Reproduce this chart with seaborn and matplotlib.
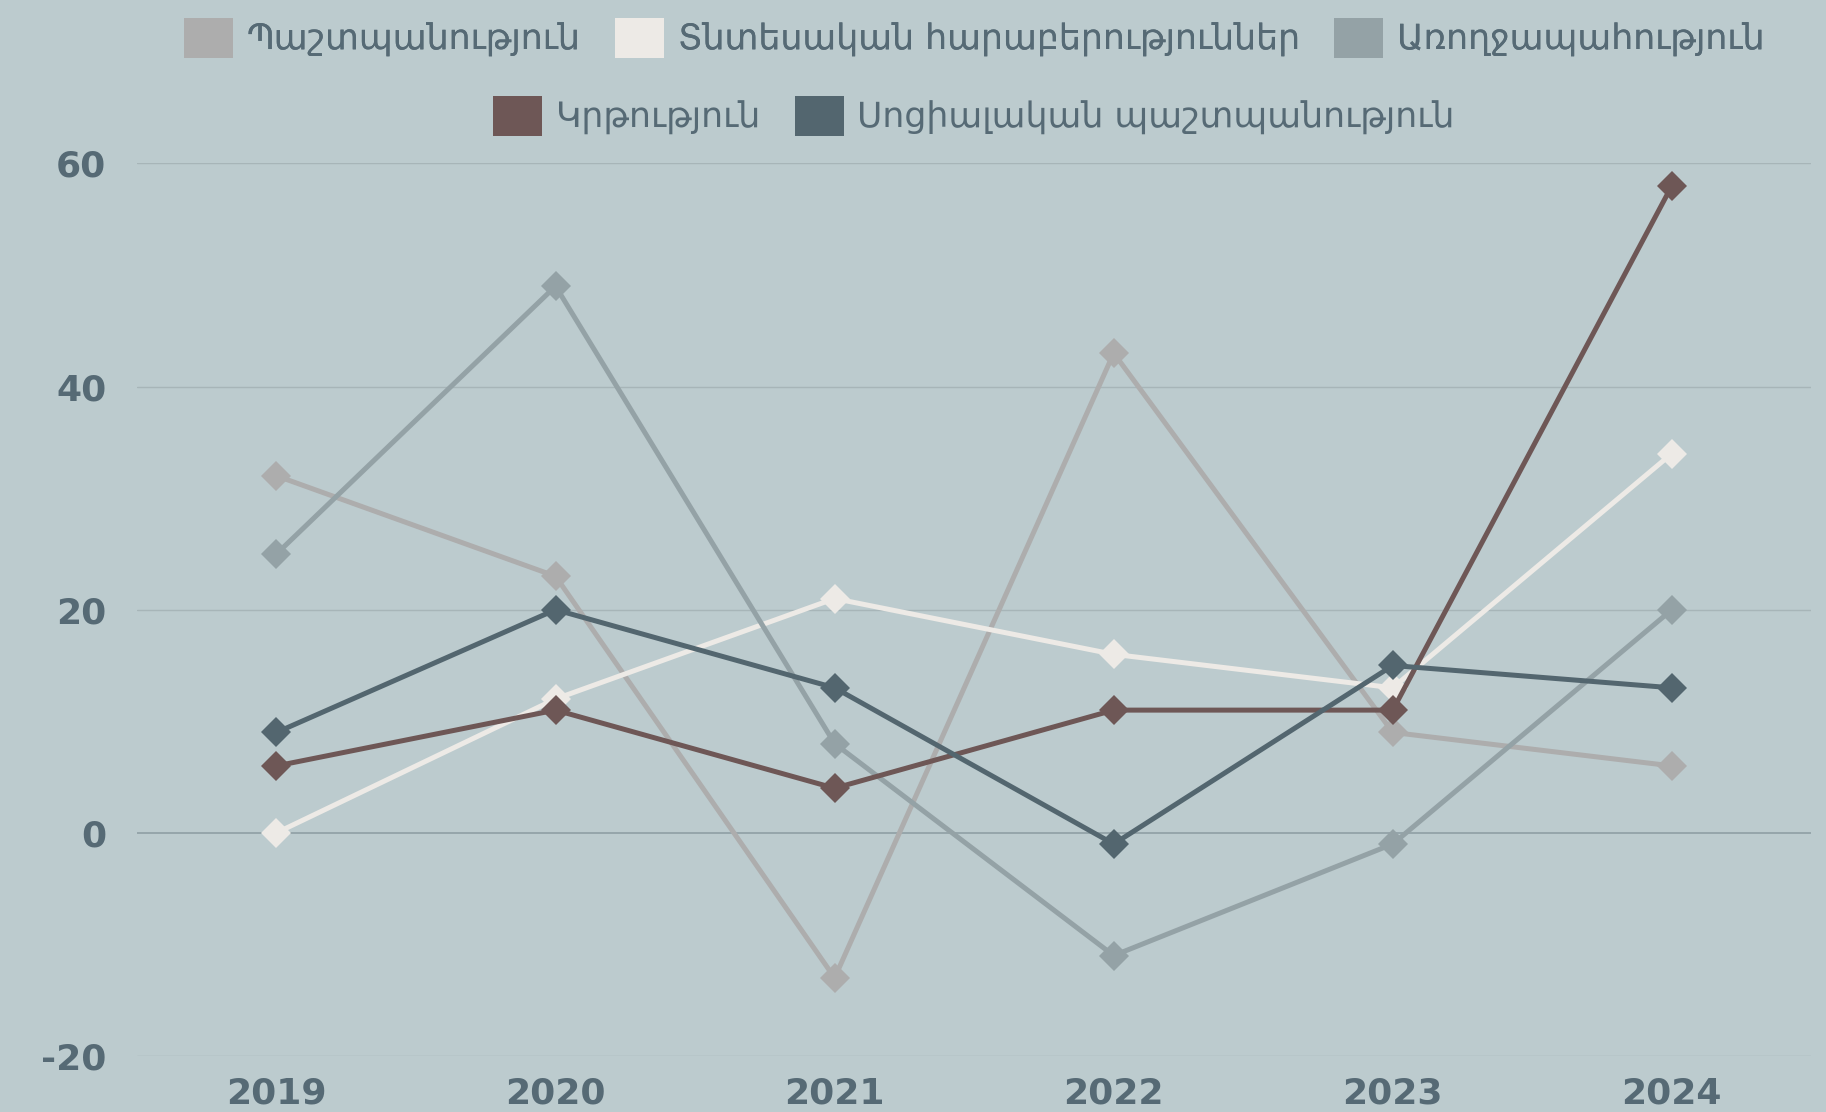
import pandas as pd
import numpy as np
import matplotlib.pyplot as plt
import seaborn as sns
from matplotlib.patches import Patch

# Data
years = [2019, 2020, 2021, 2022, 2023, 2024]
series_names = [
    'Պաշտպանություն',
    'Տնտեսական հարաբերություններ',
    'Առողջապահություն',
    'Կրթություն',
    'Սոցիալական պաշտպանություն',
]
defense = [32, 23, -13, 43, 9, 6]
economy = [0, 12, 21, 16, 13, 34]
health = [25, 49, 8, -11, -1, 20]
education = [6, 11, 4, 11, 11, 58]
social = [9, 20, 13, -1, 15, 13]
colors = ['#adadad', '#edeae6', '#94a2a6', '#6e5756', '#53666f']

bg = '#bccbce'
text_color = '#566a75'
grid_color = '#a7b5b8'

# Long format table for seaborn
values = [defense, economy, health, education, social]
df = pd.DataFrame({
    'year': years * len(series_names),
    'value': [v for vals in values for v in vals],
    'series': [name for name in series_names for _ in years],
})

sns.set_theme(style='white')
plt.rcParams['font.family'] = ['DejaVu Sans']
plt.rcParams['axes.unicode_minus'] = False

fig = plt.figure(figsize=(18.26, 11.12), dpi=100, facecolor=bg)
ax = fig.add_axes([0.075, 0.0504, 0.917, 0.8026], facecolor=bg)

sns.lineplot(data=df, x='year', y='value', hue='series', hue_order=series_names,
             palette=colors, marker='D', markersize=15, markeredgewidth=0,
             linewidth=3.6, ax=ax, legend=False, clip_on=False)

ax.set_xlim(2018.5, 2024.5)
ax.set_ylim(-20, 60)
ax.set_yticks([-20, 0, 20, 40, 60])
ax.set_xticks(years)
ax.set_xticklabels([str(y) for y in years])
ax.set_xlabel('')
ax.set_ylabel('')

for y in [-20, 20, 40, 60]:
    ax.axhline(y, color=grid_color, linewidth=1, zorder=0)
ax.axhline(0, color='#93a3a8', linewidth=1.3, zorder=0)

for s in ax.spines.values():
    s.set_visible(False)

ax.tick_params(axis='both', length=0, colors=text_color, labelsize=26)
ax.tick_params(axis='y', pad=22)
ax.tick_params(axis='x', pad=15)
for lab in ax.get_xticklabels() + ax.get_yticklabels():
    lab.set_fontweight('bold')

# Legend in two centred rows
handles = [Patch(facecolor=c, edgecolor='none') for c in colors]
cx = 0.075 + 0.917 / 2
leg_kw = dict(loc='center', frameon=False, fontsize=25, labelcolor=text_color,
              handlelength=1.4, handleheight=1.4, handletextpad=0.4,
              columnspacing=1.0)
leg1 = fig.legend(handles[:3], series_names[:3], ncol=3,
                  bbox_to_anchor=(cx, 1 - 38 / 1112), **leg_kw)
leg2 = fig.legend(handles[3:], series_names[3:], ncol=2,
                  bbox_to_anchor=(cx, 1 - 116 / 1112), **leg_kw)
fig.add_artist(leg1)

fig.savefig('out.png', dpi=100, facecolor=bg)
